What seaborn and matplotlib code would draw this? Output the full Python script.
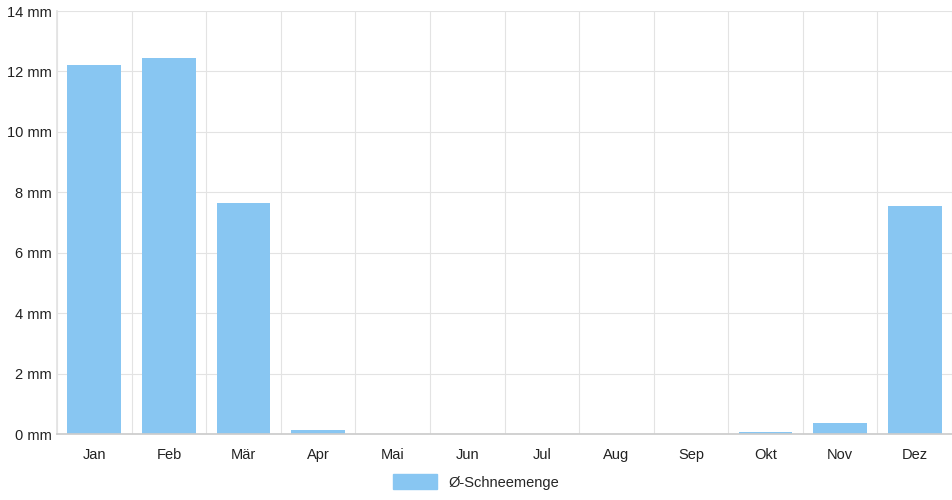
import matplotlib
matplotlib.use("Agg")
import matplotlib.pyplot as plt
import seaborn as sns
import pandas as pd
from matplotlib.ticker import FuncFormatter, MultipleLocator
from matplotlib.patches import Patch

months = ["Jan","Feb","Mär","Apr","Mai","Jun","Jul","Aug","Sep","Okt","Nov","Dez"]
snow = [12.2, 12.45, 7.63, 0.13, 0, 0, 0, 0, 0, 0.08, 0.35, 7.55]
label = "Ø-Schneemenge"
color = "#88c6f2"

sns.set_theme(style="white")
plt.rcParams['font.family'] = ['Liberation Sans', 'DejaVu Sans']
fig = plt.figure(figsize=(9.52, 5.0), dpi=100)
ax = fig.add_axes([57/952, 66/500, 895/952, 423/500])
df = pd.DataFrame({"m": months, "v": snow})
sns.barplot(data=df, x="m", y="v", color=color, saturation=1, width=0.72, ax=ax,
            edgecolor="white", linewidth=0)
ax.set_ylim(0, 14)
ax.set_xlim(-0.5, 11.5)
ax.yaxis.set_major_locator(MultipleLocator(2))
ax.yaxis.set_major_formatter(FuncFormatter(lambda v, p: f"{int(v)} mm"))
ax.set_xticks(range(12)); ax.set_xticks([i+0.5 for i in range(-1, 12)], minor=True)
ax.grid(True, axis="y", color="#e3e3e3", lw=0.8)
ax.grid(True, axis="x", which="minor", color="#e3e3e3", lw=0.8)
ax.set_axisbelow(True)
for s in ax.spines.values(): s.set_visible(False)
ax.spines["bottom"].set_visible(True); ax.spines["bottom"].set_color("#cccccc")
ax.spines["left"].set_visible(True); ax.spines["left"].set_color("#e3e3e3")
ax.tick_params(axis="both", labelsize=10.5, colors="#222222", length=0)
ax.tick_params(axis="x", pad=10)
ax.set_xlabel(""); ax.set_ylabel("")
fig.legend(handles=[Patch(color=color, label=label)], loc="center", bbox_to_anchor=(476/952, 1-482/500),
           frameon=False, fontsize=10.5, handlelength=3, handleheight=1.2)
fig.savefig("out.png", dpi=100)
